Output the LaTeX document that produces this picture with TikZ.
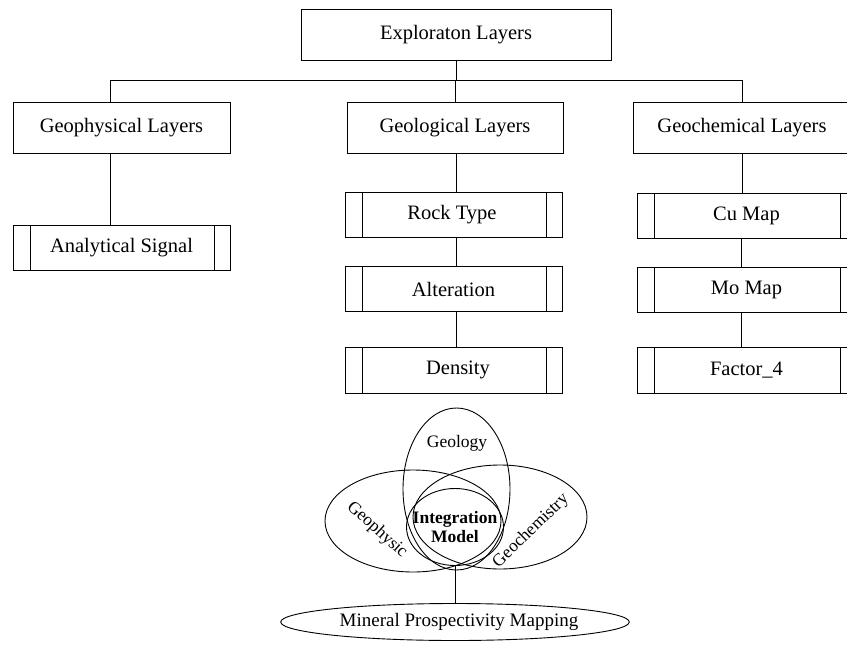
\documentclass[tikz,border=0pt]{standalone}
\usepackage{fontspec}
\setmainfont{Liberation Serif}
\usetikzlibrary{shapes.geometric}
\tikzset{
  lay/.style={draw, line width=0.9pt, inner sep=0pt, minimum height=51pt,
    font=\fontsize{20.5}{24}\selectfont},
  subbox/.style={draw, line width=0.9pt, inner sep=0pt, minimum width=217pt, minimum height=45pt,
    font=\fontsize{20.5}{24}\selectfont,
    path picture={
      \draw[line width=0.9pt] ([xshift=17pt]path picture bounding box.north west) -- ([xshift=17pt]path picture bounding box.south west);
      \draw[line width=0.9pt] ([xshift=-16pt]path picture bounding box.north east) -- ([xshift=-16pt]path picture bounding box.south east);}},
  conn/.style={line width=0.9pt},
  venn/.style={draw, ellipse, line width=0.9pt, inner sep=0pt},
  vtext/.style={font=\fontsize{17.5}{20}\selectfont, inner sep=0pt}
}
\begin{document}
\begin{tikzpicture}[x=1pt,y=-1pt]
\useasboundingbox (0,0) rectangle (847,648);
\clip (0,0) rectangle (847,648);
% tree
\node[lay, minimum width=310pt] (top) at (456,35) {Exploraton Layers};
\node[lay, minimum width=217pt] (geop) at (121.5,127.5) {Geophysical Layers};
\node[lay, minimum width=216pt] (geol) at (455,127.5) {Geological Layers};
\node[lay, minimum width=218pt] (geoc) at (742,127.5) {Geochemical Layers};
\coordinate (bus) at (455,80);
\draw[conn] (top.south) -- (top.south |- bus);
\draw[conn] ([xshift=-11.5pt]geop.north) |- (geoc.north |- bus) -- (geoc.north);
\draw[conn] (geol.north |- bus) -- (geol.north);
% sub boxes
\node[subbox] (anal) at (121.5,248) {Analytical Signal};
\node[subbox] (rock) at (453.5,215) {\hspace{-3pt}Rock Type};
\node[subbox] (alt) at (453.5,289) {Alteration\hspace{33pt}};
\node[subbox, minimum height=46pt] (dens) at (453.5,370) {\hspace{9pt}Density};
\node[subbox, minimum width=219pt] (cu) at (746.5,215.5) {Cu Map\hspace{3pt}};
\node[subbox, minimum width=219pt] (mo) at (746.5,289.5) {Mo Map\hspace{5pt}};
\node[subbox, minimum width=219pt, minimum height=46pt] (fac) at (746.5,370) {Factor\_4\hspace{13pt}};
\draw[conn] ([xshift=-11.5pt]geop.south) -- ([xshift=-11.5pt]geop.south |- anal.north);
\draw[conn] ([xshift=1pt]geol.south) -- ([xshift=1pt]geol.south |- rock.north);
\draw[conn] ([xshift=2.5pt]rock.south) -- ([xshift=2.5pt]alt.north);
\draw[conn] ([xshift=2.5pt]alt.south) -- ([xshift=2.5pt]dens.north);
\draw[conn] (geoc.south) -- (geoc.south |- cu.north);
\draw[conn] ([xshift=-5.5pt]cu.south) -- ([xshift=-5.5pt]mo.north);
\draw[conn] ([xshift=-5.5pt]mo.south) -- ([xshift=-5.5pt]fac.north);
% venn
\node[venn, minimum width=107pt, minimum height=162pt] (geolo) at (456.5,489) {};
\node[venn, minimum width=176pt, minimum height=102pt] (geoph) at (413,521) {};
\node[venn, minimum width=174pt, minimum height=104pt] (geoch) at (500,517) {};
\node[venn, minimum width=97pt, minimum height=77pt, align=center,
      inner xsep=-10pt, inner ysep=0pt,
      font=\bfseries\fontsize{17.5}{20}\selectfont] (integ) at (455,527) {Integration\\[-1pt]Model};
\node[vtext] (tgeolo) at (457,443) {Geology};
\node[vtext, rotate=-42] (tgeoph) at (377,530) {Geophysic};
\node[vtext, rotate=44] (tgeoch) at (531,531) {Geochemistry};
\node[venn, minimum width=256pt, minimum height=37pt,
      font=\fontsize{19}{22}\selectfont] (mpm) at (455,622) {\hspace{8pt}Mineral Prospectivity Mapping};
\draw[conn] (integ.south) -- (mpm.north);
\end{tikzpicture}
\end{document}
